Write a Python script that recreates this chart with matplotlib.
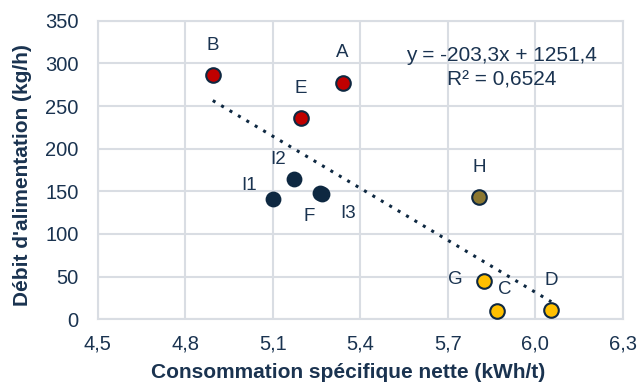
import matplotlib
matplotlib.use("Agg")
import matplotlib.pyplot as plt
import numpy as np

plt.rcParams['font.family'] = ['Liberation Sans', 'DejaVu Sans']

labels = ["B", "A", "E", "I2", "I1", "F", "I3", "H", "G", "C", "D"]
x_vals = [4.894, 5.339, 5.195, 5.174, 5.100, 5.262, 5.268, 5.807, 5.823, 5.870, 6.055]
y_vals = [286, 277, 236, 164, 141, 148, 147, 143, 44.5, 9, 11]
groups = ["red", "red", "red", "navy", "navy", "navy", "navy", "olive", "yellow", "yellow", "yellow"]

slope = -203.3
intercept = 1251.4
r2 = 0.6524

xticks = [4.5, 4.8, 5.1, 5.4, 5.7, 6.0, 6.3]
yticks = [0, 50, 100, 150, 200, 250, 300, 350]

colors = {"red": "#C00000", "navy": "#0E2841", "olive": "#8B7730", "yellow": "#FFC000"}
edge = "#0E2841"
offsets = {"B": (0, 30), "A": (0, 31), "E": (0, 29), "I2": (-16, 20), "I1": (-24, 13),
           "F": (-11, -24), "I3": (26, -20), "H": (0, 30), "G": (-28, 2), "C": (7, 22), "D": (0, 29)}

txt = "#1A3350"
grid = "#D9DDE3"

fig = plt.figure(figsize=(6.4, 3.85), dpi=100)
ax = fig.add_axes([0.153, 0.171, 0.820, 0.775])

ax.set_xlim(4.5, 6.3)
ax.set_ylim(0, 350)
ax.set_xticks(xticks)
ax.set_yticks(yticks)
ax.set_xticklabels([f"{t:.1f}".replace(".", ",") for t in xticks])
ax.set_yticklabels([str(t) for t in yticks])
ax.grid(True, color=grid, linewidth=1.5, zorder=0)
for s in ax.spines.values():
    s.set_color(grid)
    s.set_linewidth(1.5)
ax.tick_params(length=0, labelsize=14.5, colors=txt)
ax.tick_params(axis="y", pad=14)
ax.tick_params(axis="x", pad=11)

# trendline
xt = np.linspace(min(x_vals), max(x_vals), 100)
ax.plot(xt, slope * xt + intercept, linestyle=(0, (1, 2.2)), color="#0E2841",
        linewidth=2.2, zorder=2)

for lab, x, y, g in zip(labels, x_vals, y_vals, groups):
    if g == "navy":
        ax.scatter(x, y, s=130, color=colors[g], edgecolor=colors[g], linewidth=0, zorder=3)
    else:
        ax.scatter(x, y, s=110, color=colors[g], edgecolor=edge, linewidth=1.5, zorder=3)
    dx, dy = offsets[lab]
    ax.annotate(lab, (x, y), xytext=(dx, dy), textcoords="offset pixels",
                ha="center", va="center", fontsize=13.5, color=txt, zorder=4)

eq = f"y = {slope:.1f}x + {intercept:.1f}".replace(".", ",")
ax.text(5.884, 309, eq, ha="center", va="center", fontsize=15, color=txt, zorder=4)
ax.text(5.884, 280, f"R² = {r2:.4f}".replace(".", ","), ha="center", va="center",
        fontsize=15, color=txt, zorder=4)

fig.text(348 / 640, 1 - 372 / 385, "Consommation spécifique nette (kWh/t)", fontsize=15,
         fontweight="bold", color=txt, ha="center", va="center")
fig.text(23 / 640, 1 - 175.5 / 385, "Débit d'alimentation (kg/h)", fontsize=15,
         fontweight="bold", color=txt, ha="center", va="center", rotation=90)

fig.savefig("out.png", dpi=100)
